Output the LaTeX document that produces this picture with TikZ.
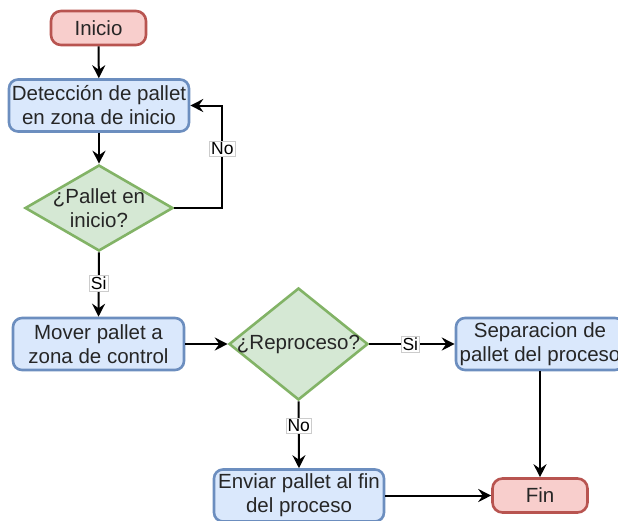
\documentclass[tikz,border=0pt]{standalone}
\usepackage{fontspec}
\setmainfont{Liberation Sans}
\usetikzlibrary{shapes.geometric, arrows.meta}
\definecolor{redfill}{HTML}{F8CECC}
\definecolor{redline}{HTML}{B85450}
\definecolor{bluefill}{HTML}{DAE8FC}
\definecolor{blueline}{HTML}{6C8EBF}
\definecolor{greenfill}{HTML}{D5E8D4}
\definecolor{greenline}{HTML}{82B366}
\definecolor{txt}{HTML}{262626}
\tikzstyle{terminal}=[draw=redline, fill=redfill, line width=2.6pt, rounded corners=10pt, minimum width=95pt, minimum height=34pt, text=txt, font=\fontsize{20.5}{24}\selectfont]
\tikzstyle{process}=[draw=blueline, fill=bluefill, line width=2.6pt, rounded corners=9pt, minimum height=52pt, inner sep=0pt, align=center, text=txt, font=\fontsize{20.5}{24}\selectfont]
\tikzstyle{decision}=[diamond, draw=greenline, fill=greenfill, line width=2.6pt, inner sep=0pt, label={[text=txt, align=center, font=\fontsize{20.5}{24}\selectfont]center:#1}]
\tikzstyle{arrow}=[line width=2pt, -{Stealth[length=13pt, width=13pt, inset=4.5pt]}]
\tikzstyle{answer}=[fill=white, draw=black!20, line width=0.5pt, inner sep=1.5pt, text=black, font=\fontsize{17.5}{19}\selectfont]

\begin{document}
\begin{tikzpicture}[x=1pt, y=-1pt]
    \useasboundingbox (0,0) rectangle (618,520);
    \clip (0,0) rectangle (618,520);
% Steps
    \node[terminal] (inicio) at (98.5,28) {Inicio};
    \node[process, minimum width=180pt] (deteccion) at (99,105.5) {Detección de pallet\\en zona de inicio};
    \node[decision={¿Pallet en\\inicio?}, minimum width=148pt, minimum height=86pt] (enInicio) at (99,208) {};
    \node[process, minimum width=171pt] (mover) at (98.5,344) {Mover pallet a\\zona de control};
    \node[decision={¿Reproceso?}, minimum width=139pt, minimum height=112pt] (reproceso) at (298.5,344) {};
    \node[process, minimum width=168pt] (separacion) at (540,344) {Separacion de\\pallet del proceso};
    \node[process, minimum width=170pt] (enviar) at (299,495.5) {Enviar pallet al fin\\del proceso};
    \node[terminal] (fin) at (540,495.5) {Fin};
% Flow
    \draw[arrow] (inicio) -- (deteccion);
    \draw[arrow] (deteccion) -- (enInicio);
    \draw[arrow] (enInicio.east) -- ++(48,0) |- node[answer, pos=0.29] {No} (deteccion.east);
    \draw[arrow] (enInicio.south) -- node[answer, pos=0.48] {Si} (mover.north);
    \draw[arrow] (mover.east) -- (reproceso.west);
    \draw[arrow] (reproceso.east) -- node[answer, pos=0.48] {Si} (separacion.west);
    \draw[arrow] (reproceso.south) -- node[answer, pos=0.37] {No} (enviar.north);
    \draw[arrow] (separacion.south) -- (fin.north);
    \draw[arrow] (enviar.east) -- (fin.west);
\end{tikzpicture}
\end{document}
